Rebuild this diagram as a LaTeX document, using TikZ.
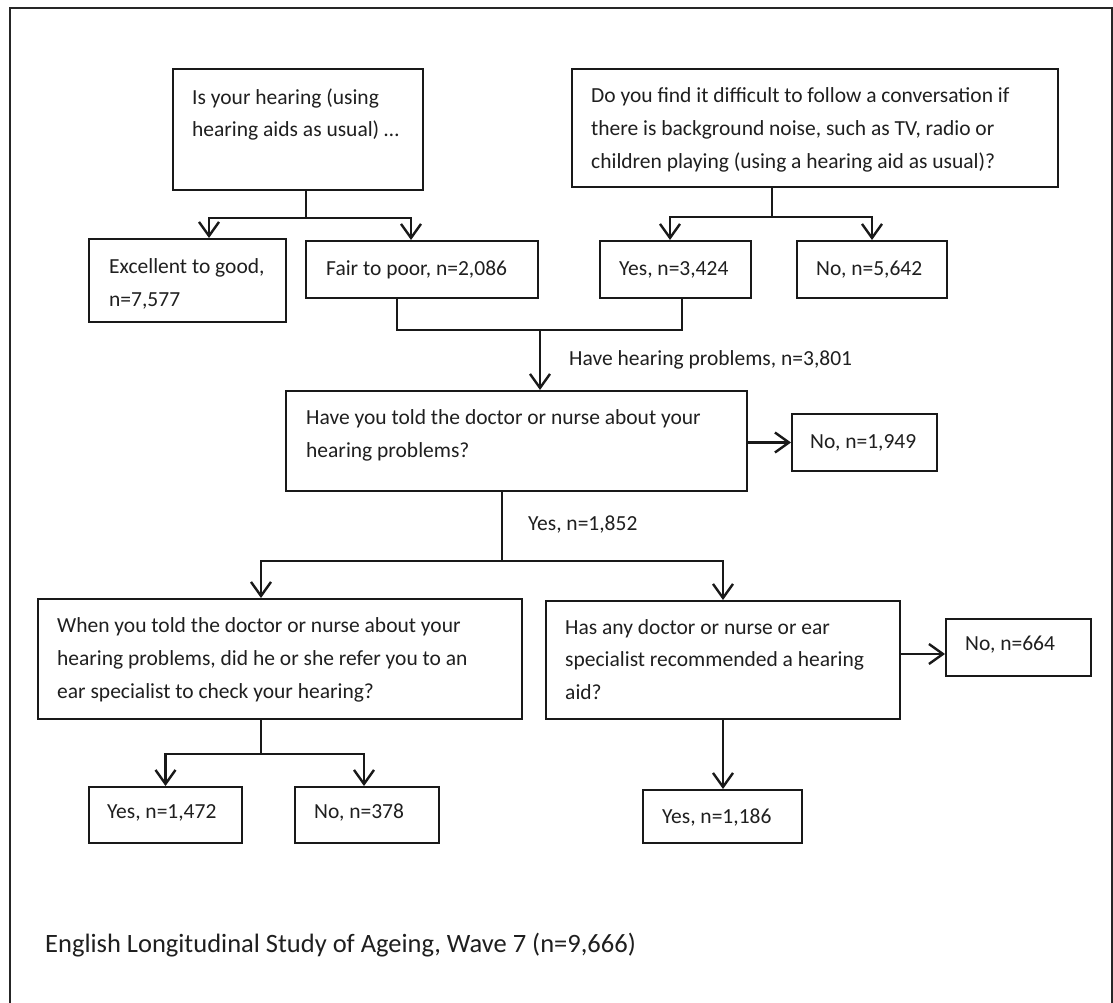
\documentclass[tikz,border=0pt]{standalone}
\usepackage{fontspec}
\setmainfont{Carlito}
\usetikzlibrary{arrows.meta}
\begin{document}
\begin{tikzpicture}[x=1pt,y=-1pt,
  box/.style={draw=black!90, line width=2pt, inner sep=0pt},
  txt/.style={anchor=base west, inner sep=0pt, text=black!88,
              font=\fontsize{21.5}{26}\selectfont},
  link/.style={draw=black!90, line width=2.4pt},
  arr/.style={link, -{Straight Barb[length=14pt,width=20pt,line width=2.4pt]}}
]
\useasboundingbox (0,0) rectangle (1113,1003);
\clip (0,0) rectangle (1113,1003);
\fill[white] (0,0) rectangle (1113,1003);

% outer frame
\draw[line width=2.4pt, black!85] (10,8) rectangle (1112,1040);

% boxes
\node[box, minimum width=250pt, minimum height=121pt] (qA)    at (298,129.5) {};
\node[box, minimum width=486pt, minimum height=118pt] (qB)    at (815,128)   {};
\node[box, minimum width=197pt, minimum height=83pt]  (exc)   at (187.5,280.5) {};
\node[box, minimum width=232pt, minimum height=57pt]  (fair)  at (422,269.5) {};
\node[box, minimum width=151pt, minimum height=57pt]  (y3424) at (675.5,269.5) {};
\node[box, minimum width=150pt, minimum height=57pt]  (n5642) at (872,269.5) {};
\node[box, minimum width=461pt, minimum height=100pt] (qC)    at (516.5,441) {};
\node[box, minimum width=145pt, minimum height=57pt]  (n1949) at (864.5,442.5) {};
\node[box, minimum width=484pt, minimum height=120pt] (qD)    at (280,659) {};
\node[box, minimum width=354pt, minimum height=118pt] (qE)    at (723,660) {};
\node[box, minimum width=145pt, minimum height=57pt]  (n664)  at (1018.5,647.5) {};
\node[box, minimum width=153pt, minimum height=56pt]  (y1472) at (165.5,815) {};
\node[box, minimum width=144pt, minimum height=56pt]  (n378)  at (367,815) {};
\node[box, minimum width=159pt, minimum height=53pt]  (y1186) at (722.5,816.5) {};

% texts
\node[txt] (tA1) at (192,105) {Is your hearing (using};
\node[txt] (tA2) at (192,137) {hearing aids as usual) …};
\node[txt] (tB1) at (591,103) {Do you find it difficult to follow a conversation if};
\node[txt] (tB2) at (591,136) {there is background noise, such as TV, radio or};
\node[txt] (tB3) at (591,169) {children playing (using a hearing aid as usual)?};
\node[txt] (tExc1) at (109,273) {Excellent to good,};
\node[txt] (tExc2) at (109,306) {n=7,577};
\node[txt] (tFair) at (326,275) {Fair to poor, n=2,086};
\node[txt] (tY3424) at (619,275) {Yes, n=3,424};
\node[txt] (tN5642) at (816,275) {No, n=5,642};
\node[txt] (lHave) at (569,365) {Have hearing problems, n=3,801};
\node[txt] (tC1) at (306,424) {Have you told the doctor or nurse about your};
\node[txt] (tC2) at (306,457) {hearing problems?};
\node[txt] (tN1949) at (810,448) {No, n=1,949};
\node[txt] (lYes) at (528,530) {Yes, n=1,852};
\node[txt] (tD1) at (57,632) {When you told the doctor or nurse about your};
\node[txt] (tD2) at (57,665) {hearing problems, did he or she refer you to an};
\node[txt] (tD3) at (57,698) {ear specialist to check your hearing?};
\node[txt] (tE1) at (565,634) {Has any doctor or nurse or ear};
\node[txt] (tE2) at (565,666) {specialist recommended a hearing};
\node[txt] (tE3) at (565,699) {aid?};
\node[txt] (tN664) at (965,650) {No, n=664};
\node[txt] (tY1472) at (107,818) {Yes, n=1,472};
\node[txt] (tN378) at (314,818) {No, n=378};
\node[txt] (tY1186) at (662,823) {Yes, n=1,186};
\node[txt, font=\fontsize{26.5}{32}\selectfont] (foot) at (45,952)
  {English Longitudinal Study of Ageing, Wave 7 (n=9,666)};

% first question splits
\draw[link] ([xshift=8pt]qA.south) -- ++(0,27) coordinate (jA);
\draw[arr] (jA) -| ([xshift=21.5pt]exc.north);
\draw[arr] (jA) -| ([xshift=-11pt]fair.north);

% second question splits
\draw[link] ([xshift=-43pt]qB.south) -- ++(0,29) coordinate (jB);
\draw[arr] (jB) -| ([xshift=-5.5pt]y3424.north);
\draw[arr] (jB) -| (n5642.north);

% both "problem" answers merge
\coordinate (jM) at (540,330);
\draw[link] ([xshift=-25pt]fair.south) |- (jM) -| ([xshift=6.5pt]y3424.south);
\draw[arr] (jM) -- (jM |- qC.north);

% told the doctor?
\draw[arr] (qC.east |- n1949.west) -- (n1949.west);
\draw[link] ([xshift=-14.5pt]qC.south) -- ++(0,69) coordinate (jC);
\draw[arr] (jC) -| ([xshift=-19pt]qD.north);
\draw[arr] (jC) -| (qE.north);

% referred to a specialist?
\draw[link] ([xshift=-19pt]qD.south) -- ++(0,34) coordinate (jD);
\draw[arr] (jD) -| (y1472.north);
\draw[arr] (jD) -| ([xshift=-3pt]n378.north);

% hearing aid recommended?
\draw[arr] (qE.east |- 0,654) -- (n664.west |- 0,654);
\draw[arr] (qE.south) -- (qE.south |- y1186.north);
\end{tikzpicture}
\end{document}
